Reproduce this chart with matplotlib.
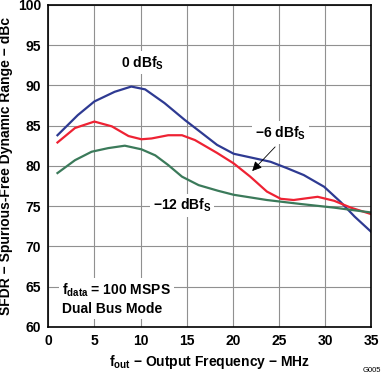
import numpy as np
import matplotlib
matplotlib.use("Agg")
import matplotlib.pyplot as plt

plt.rcParams["font.family"] = ["Liberation Sans", "DejaVu Sans"]
plt.rcParams["font.weight"] = "bold"

# data
freq_0 = [1, 3.2, 5, 7.2, 9, 10.5, 12.6, 14.8, 16.5, 18.3, 20.1, 21.9, 24.1, 25.9, 27.7, 29.9, 31.7, 33.2, 35]
sfdr_0 = [83.8, 86.3, 88.0, 89.2, 89.85, 89.5, 87.8, 85.7, 84.2, 82.6, 81.5, 81.05, 80.5, 79.7, 78.85, 77.4, 75.5, 73.7, 71.8]

freq_6 = [1, 2.9, 5, 6.9, 8.7, 10.1, 11.2, 13, 14.5, 15.9, 18.3, 20.1, 21.9, 23.7, 25.2, 26.6, 29.2, 31, 32.8, 35]
sfdr_6 = [82.9, 84.7, 85.5, 84.9, 83.7, 83.3, 83.4, 83.8, 83.8, 83.2, 81.6, 80.3, 78.65, 76.8, 75.9, 75.75, 76.15, 75.65, 74.8, 74.0]

freq_12 = [1, 2.9, 4.7, 6.5, 8.3, 10.1, 11.6, 13, 14.5, 16.3, 18.4, 20.1, 23.7, 27.4, 31, 35]
sfdr_12 = [79.1, 80.7, 81.75, 82.2, 82.5, 82.05, 81.3, 80.1, 78.65, 77.6, 76.9, 76.4, 75.75, 75.25, 74.8, 74.2]

fig = plt.figure(figsize=(3.83, 3.76), dpi=100)
ax = fig.add_axes([0.126, 0.131, 0.843, 0.856])

ax.plot(freq_0, sfdr_0, color="#2e3a92", lw=1.6)
ax.plot(freq_6, sfdr_6, color="#ee2233", lw=1.6)
ax.plot(freq_12, sfdr_12, color="#3b7a5a", lw=1.6)

ax.set_xlim(0, 35)
ax.set_ylim(60, 100)
ax.set_xticks(range(0, 36, 5))
ax.set_yticks(range(60, 101, 5))
ax.grid(True, color="#909090", lw=0.8)
ax.tick_params(length=0, labelsize=10, pad=5)
for lbl in ax.get_xticklabels() + ax.get_yticklabels():
    lbl.set_fontweight("bold")
for sp in ax.spines.values():
    sp.set_linewidth(1.2)

ax.set_xlabel(r"f$_{\mathregular{out}}$ − Output Frequency − MHz", fontsize=10, fontweight="bold", labelpad=4)
ax.set_ylabel("SFDR − Spurious-Free Dynamic Range − dBc", fontsize=10, fontweight="bold", labelpad=4)

box = dict(facecolor="white", edgecolor="none", pad=2)
ax.text(10.2, 92.8, r"0 dBf$_{\mathregular{S}}$", ha="center", va="center", fontsize=10, fontweight="bold", bbox=box)
ax.text(25.2, 84.1, r"−6 dBf$_{\mathregular{S}}$", ha="center", va="center", fontsize=10, fontweight="bold", bbox=box)
ax.annotate("", xy=(21.9, 79.1), xytext=(24.8, 82.6),
            arrowprops=dict(arrowstyle="-|>", color="black", lw=0.6, mutation_scale=14))
ax.text(14.5, 75.1, r"−12 dBf$_{\mathregular{S}}$", ha="center", va="center", fontsize=10, fontweight="bold", bbox=box)
ax.text(1.5, 65.6, "f$_{\\mathregular{data}}$ = 100 MSPS\nDual Bus Mode", ha="left", va="top",
        fontsize=10, fontweight="bold", linespacing=1.3, bbox=box)

fig.text(0.995, 0.005, "G005", ha="right", va="bottom", fontsize=5.5, fontweight="normal")

fig.savefig("out.png", dpi=100)
